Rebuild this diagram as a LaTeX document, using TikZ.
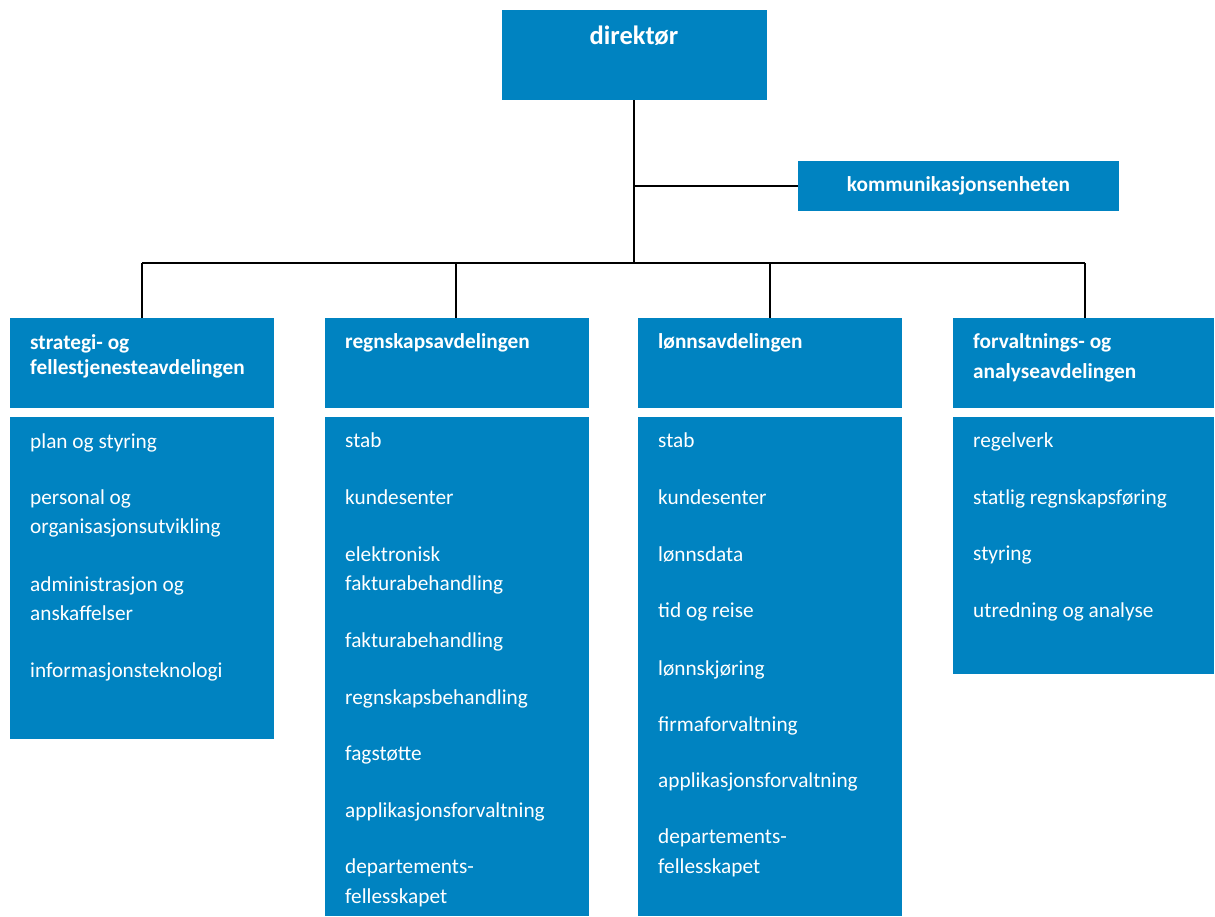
\documentclass[tikz,border=0pt]{standalone}
\usepackage{fontspec}
\setmainfont{Carlito}
\definecolor{orgblue}{HTML}{0083C1}
\begin{document}
\begin{tikzpicture}[x=1pt,y=-1pt,
  box/.style={fill=orgblue,inner sep=0pt,draw=none},
  conn/.style={line width=2.2pt,black},
  txt/.style={text=white,inner sep=0pt,font=\fontsize{21.3}{26}\selectfont,anchor=base west},
  btxt/.style={txt,font=\fontsize{21.3}{26}\selectfont\bfseries}]
\useasboundingbox (0,0) rectangle (1215,917);
% boxes
\node[box,minimum width=265pt,minimum height=90pt] (dir) at (634.5,55) {};
\node[box,minimum width=321pt,minimum height=50pt] (kom) at (958.5,186) {};
\node[box,minimum width=264pt,minimum height=90pt] (h1) at (142,363) {};
\node[box,minimum width=264pt,minimum height=90pt] (h2) at (457,363) {};
\node[box,minimum width=264pt,minimum height=90pt] (h3) at (770,363) {};
\node[box,minimum width=261pt,minimum height=90pt] (h4) at (1083.5,363) {};
\node[box,minimum width=264pt,minimum height=322pt] (b1) at (142,578) {};
\node[box,minimum width=264pt,minimum height=499pt] (b2) at (457,666.5) {};
\node[box,minimum width=264pt,minimum height=499pt] (b3) at (770,666.5) {};
\node[box,minimum width=261pt,minimum height=257pt] (b4) at (1083.5,545.5) {};
% connectors
\coordinate (jk) at (634,186);
\coordinate (jb) at (634,263);
\coordinate (j1) at (142,263);
\coordinate (j2) at (456,263);
\coordinate (j3) at (770,263);
\coordinate (j4) at (1085,263);
\draw[conn] (dir.south -| jb) -- (jb);
\draw[conn] (jk) -- (jk -| kom.west);
\draw[conn] (j1) -- (j4);
\draw[conn] (j1) -- (h1.north -| j1);
\draw[conn] (j2) -- (h2.north -| j2);
\draw[conn] (j3) -- (h3.north -| j3);
\draw[conn] (j4) -- (h4.north -| j4);
% top texts
\node[txt,anchor=base,font=\fontsize{26.5}{30}\selectfont\bfseries] (tdir) at (634,45) {direktør};
\node[btxt,anchor=base] (tkom) at (958.5,192) {kommunikasjonsenheten};
% headers
\node[btxt] (h1a) at (30,349) {strategi- og};
\node[btxt] (h1b) at (30,374) {fellestjenesteavdelingen};
\node[btxt] (h2a) at (345,348) {regnskapsavdelingen};
\node[btxt] (h3a) at (658,348) {lønnsavdelingen};
\node[btxt] (h4a) at (973,348) {forvaltnings- og};
\node[btxt] (h4b) at (973,378) {analyseavdelingen};
% column 1
\node[txt] (c1a) at (30,448) {plan og styring};
\node[txt] (c1b) at (30,504) {personal og};
\node[txt] (c1c) at (30,533) {organisasjonsutvikling};
\node[txt] (c1d) at (30,591) {administrasjon og};
\node[txt] (c1e) at (30,620) {anskaffelser};
\node[txt] (c1f) at (30,677) {informasjonsteknologi};
% column 2
\node[txt] (c2a) at (345,447) {stab};
\node[txt] (c2b) at (345,504) {kundesenter};
\node[txt] (c2c) at (345,561) {elektronisk};
\node[txt] (c2d) at (345,590) {fakturabehandling};
\node[txt] (c2e) at (345,647) {fakturabehandling};
\node[txt] (c2f) at (345,704) {regnskapsbehandling};
\node[txt] (c2g) at (345,760) {fagstøtte};
\node[txt] (c2h) at (345,817) {applikasjonsforvaltning};
\node[txt] (c2i) at (345,873) {departements-};
\node[txt] (c2j) at (345,903) {fellesskapet};
% column 3
\node[txt] (c3a) at (658,447) {stab};
\node[txt] (c3b) at (658,504) {kundesenter};
\node[txt] (c3c) at (658,561) {lønnsdata};
\node[txt] (c3d) at (658,617) {tid og reise};
\node[txt] (c3e) at (658,675) {lønnskjøring};
\node[txt] (c3f) at (658,731) {firmaforvaltning};
\node[txt] (c3g) at (658,787) {applikasjonsforvaltning};
\node[txt] (c3h) at (658,843) {departements-};
\node[txt] (c3i) at (658,873) {fellesskapet};
% column 4
\node[txt] (c4a) at (973,447) {regelverk};
\node[txt] (c4b) at (973,504) {statlig regnskapsføring};
\node[txt] (c4c) at (973,560) {styring};
\node[txt] (c4d) at (973,617) {utredning og analyse};
\end{tikzpicture}
\end{document}
